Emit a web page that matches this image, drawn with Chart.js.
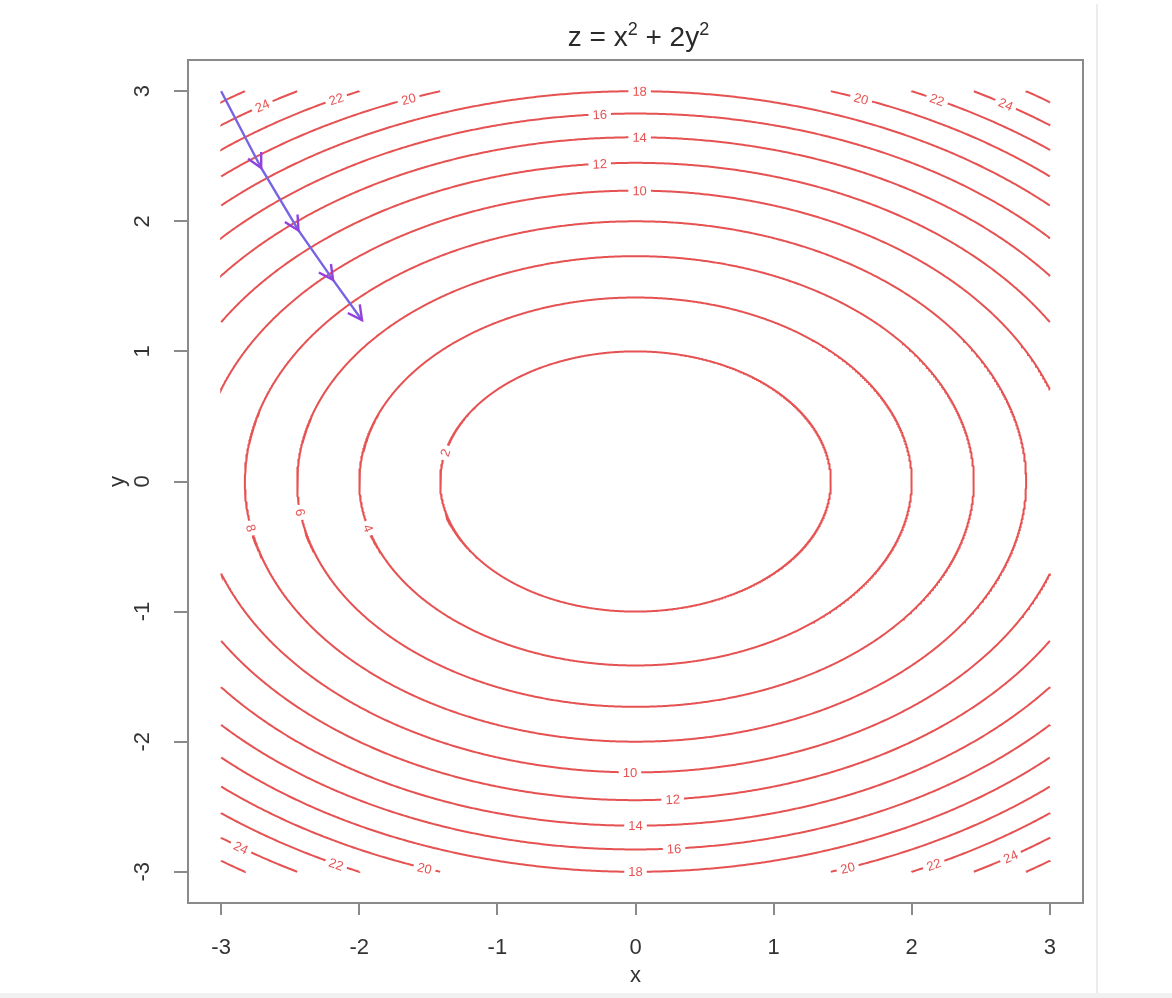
<!DOCTYPE html>
<html>
<head>
<meta charset="utf-8">
<script src="https://cdn.jsdelivr.net/npm/chart.js@4.4.1/dist/chart.umd.min.js"></script>
<style>
html, body { margin: 0; padding: 0; background: #fff; }
#wrap { position: relative; width: 1172px; height: 998px; }
#edge { position: absolute; left: 1096px; top: 4px; width: 2px; height: 994px; background: #ececf0; }
#foot { position: absolute; left: 0; top: 993px; width: 1172px; height: 5px; background: #f1f1f1; }
</style>
</head>
<body>
<div id="wrap"><canvas id="chart"></canvas><div id="edge"></div><div id="foot"></div></div>
<script>
// contour levels of z = x^2 + 2y^2
const levels = [2, 4, 6, 8, 10, 12, 14, 16, 18, 20, 22, 24, 26];
const axisTicks = [-3, -2, -1, 0, 1, 2, 3];

// gradient descent steps (purple arrows)
const pathX = [-3, -2.71, -2.44, -2.19, -1.98];
const pathY = [3, 2.41, 1.93, 1.55, 1.24];

// contour labels
const labelLevel = [2, 4, 6, 8, 10, 10, 12, 12, 14, 14, 16, 16, 18, 18,
                    20, 20, 20, 20, 22, 22, 22, 22, 24, 24, 24, 24];
const labelX = [-1.37, -1.94, -2.45, -2.8, 0.03, -0.04, -0.26, 0.27, 0.03, 0, -0.26, 0.28, 0.03, 0,
                -1.62, 1.61, -1.49, 1.5, -2.1, 2.12, -2.1, 2.09, -2.6, 2.57, -2.74, 2.59];
const labelY = [0.22, -0.36, -0.24, -0.36, 2.24, -2.24, 2.45, -2.45, 2.65, -2.65, 2.83, -2.83, 3, -3,
                2.9, 2.9, -2.9, -2.9, 2.85, 2.85, -2.85, -2.85, 2.78, 2.78, -2.7, -2.75];

const RED = 'rgba(224,44,44,0.82)';
const FONT = '"Liberation Sans", Arial, sans-serif';

function edgePoint(inp, out) {
    let f = 1;
    ['x', 'y'].forEach(c => {
        if (Math.abs(out[c]) > 3) {
            const lim = out[c] > 0 ? 3 : -3;
            f = Math.min(f, (lim - inp[c]) / (out[c] - inp[c]));
        }
    });
    return { x: inp.x + f * (out.x - inp.x), y: inp.y + f * (out.y - inp.y) };
}

function contourSegments(L) {
    const a = Math.sqrt(L), b = Math.sqrt(L / 2), n = 1440;
    const inside = p => Math.abs(p.x) <= 3.0000001 && Math.abs(p.y) <= 3.0000001;
    const pts = [];
    for (let i = 0; i <= n; i++) {
        const t = 2 * Math.PI * i / n;
        pts.push({ x: a * Math.cos(t), y: b * Math.sin(t) });
    }
    const segs = [];
    let cur = null, firstStartsAt0 = false;
    for (let i = 0; i < pts.length; i++) {
        const p = pts[i];
        if (inside(p)) {
            if (!cur) {
                cur = [];
                if (i > 0) cur.push(edgePoint(p, pts[i - 1]));
                else firstStartsAt0 = true;
            }
            cur.push(p);
        } else if (cur) {
            cur.push(edgePoint(pts[i - 1], p));
            segs.push(cur);
            cur = null;
        }
    }
    if (cur) {
        if (firstStartsAt0 && segs.length > 0) segs[0] = cur.concat(segs[0]);
        else segs.push(cur);
    }
    return segs;
}

const datasets = [{
    data: pathX.map((x, i) => ({ x: x, y: pathY[i] })),
    borderColor: '#7664e4', borderWidth: 2.4, pointRadius: 0, showLine: true, tension: 0
}];
levels.forEach(L => {
    contourSegments(L).forEach(seg => {
        datasets.push({ data: seg, borderColor: RED, borderWidth: 2, pointRadius: 0, showLine: true, tension: 0 });
    });
});

const decor = {
    id: 'decor',
    afterDatasetsDraw(chart) {
        const { ctx, scales: { x, y } } = chart;
        ctx.save();
        // contour labels with a gap in the line
        ctx.font = '13px ' + FONT;
        ctx.textAlign = 'center';
        ctx.textBaseline = 'middle';
        const sx = (x.getPixelForValue(1) - x.getPixelForValue(0));
        const sy = (y.getPixelForValue(0) - y.getPixelForValue(1));
        labelLevel.forEach((L, i) => {
            let lx = labelX[i], ly = labelY[i];
            const s = Math.sqrt(L / (lx * lx + 2 * ly * ly));
            lx *= s; ly *= s;
            const px = x.getPixelForValue(lx), py = y.getPixelForValue(ly);
            let ang = Math.atan2(-(2 * lx) * sy, -4 * ly * sx);
            if (ang > Math.PI / 2) ang -= Math.PI;
            if (ang < -Math.PI / 2) ang += Math.PI;
            const txt = String(L);
            const w = ctx.measureText(txt).width;
            ctx.save();
            ctx.translate(px, py);
            ctx.rotate(ang);
            ctx.fillStyle = '#fff';
            ctx.fillRect(-w / 2 - 4, -5.5, w + 8, 11);
            ctx.fillStyle = RED;
            ctx.fillText(txt, 0, 1);
            ctx.restore();
        });
        // arrowheads on the descent path
        ctx.strokeStyle = '#9340e0';
        ctx.lineWidth = 2.4;
        for (let i = 1; i < pathX.length; i++) {
            const x0 = x.getPixelForValue(pathX[i - 1]), y0 = y.getPixelForValue(pathY[i - 1]);
            const x1 = x.getPixelForValue(pathX[i]), y1 = y.getPixelForValue(pathY[i]);
            const a = Math.atan2(y1 - y0, x1 - x0);
            ctx.beginPath();
            ctx.moveTo(x1 - 16 * Math.cos(a - 0.48), y1 - 16 * Math.sin(a - 0.48));
            ctx.lineTo(x1, y1);
            ctx.lineTo(x1 - 16 * Math.cos(a + 0.48), y1 - 16 * Math.sin(a + 0.48));
            ctx.stroke();
        }
        ctx.restore();
    },
    afterDraw(chart) {
        const { ctx, chartArea: ca, scales: { y } } = chart;
        ctx.save();
        // plot box
        ctx.strokeStyle = '#8a8a8a';
        ctx.lineWidth = 2;
        ctx.strokeRect(ca.left, ca.top, ca.right - ca.left, ca.bottom - ca.top);
        // y tick labels, rotated like R
        ctx.fillStyle = '#333';
        ctx.font = '22px ' + FONT;
        ctx.textAlign = 'center';
        ctx.textBaseline = 'middle';
        axisTicks.forEach(v => {
            ctx.save();
            ctx.translate(ca.left - 45, y.getPixelForValue(v));
            ctx.rotate(-Math.PI / 2);
            ctx.fillText(String(v), 0, 0);
            ctx.restore();
        });
        // axis titles
        const cx = (ca.left + ca.right) / 2, cy = (ca.top + ca.bottom) / 2;
        ctx.fillText('x', cx, ca.bottom + 73);
        ctx.save();
        ctx.translate(ca.left - 70, cy);
        ctx.rotate(-Math.PI / 2);
        ctx.fillText('y', 0, 0);
        ctx.restore();
        // title z = x^2 + 2y^2
        const parts = [['z = x', 28, 0], ['2', 18, -11], [' + 2y', 28, 0], ['2', 18, -11]];
        let total = 0;
        parts.forEach(p => { ctx.font = p[1] + 'px ' + FONT; total += ctx.measureText(p[0]).width; });
        let tx = cx - total / 2 + 3;
        ctx.textAlign = 'left';
        ctx.textBaseline = 'alphabetic';
        ctx.fillStyle = '#2a2a2a';
        parts.forEach(p => {
            ctx.font = p[1] + 'px ' + FONT;
            ctx.fillText(p[0], tx, 46 + p[2]);
            tx += ctx.measureText(p[0]).width;
        });
        ctx.restore();
    }
};

new Chart(document.getElementById('chart'), {
    type: 'scatter',
    data: { datasets: datasets },
    options: {
        responsive: true,
        maintainAspectRatio: false,
        animation: false,
        layout: { padding: { top: 60, right: 89, left: 0, bottom: 0 } },
        plugins: { legend: { display: false }, tooltip: { enabled: false } },
        scales: {
            x: {
                type: 'linear', min: -3.24, max: 3.24,
                afterBuildTicks: s => { s.ticks = axisTicks.map(v => ({ value: v })); },
                afterFit: s => { s.height = 95; },
                grid: { drawOnChartArea: false, tickLength: 12, color: '#8a8a8a', lineWidth: 2 },
                border: { display: false },
                ticks: { color: '#333', font: { size: 22, family: FONT }, padding: 20, maxRotation: 0 }
            },
            y: {
                type: 'linear', min: -3.24, max: 3.24,
                afterBuildTicks: s => { s.ticks = axisTicks.map(v => ({ value: v })); },
                afterFit: s => { s.width = 188; },
                grid: { drawOnChartArea: false, tickLength: 14, color: '#8a8a8a', lineWidth: 2 },
                border: { display: false },
                ticks: { callback: () => '', padding: 0 }
            }
        }
    },
    plugins: [decor]
});
</script>
</body>
</html>
